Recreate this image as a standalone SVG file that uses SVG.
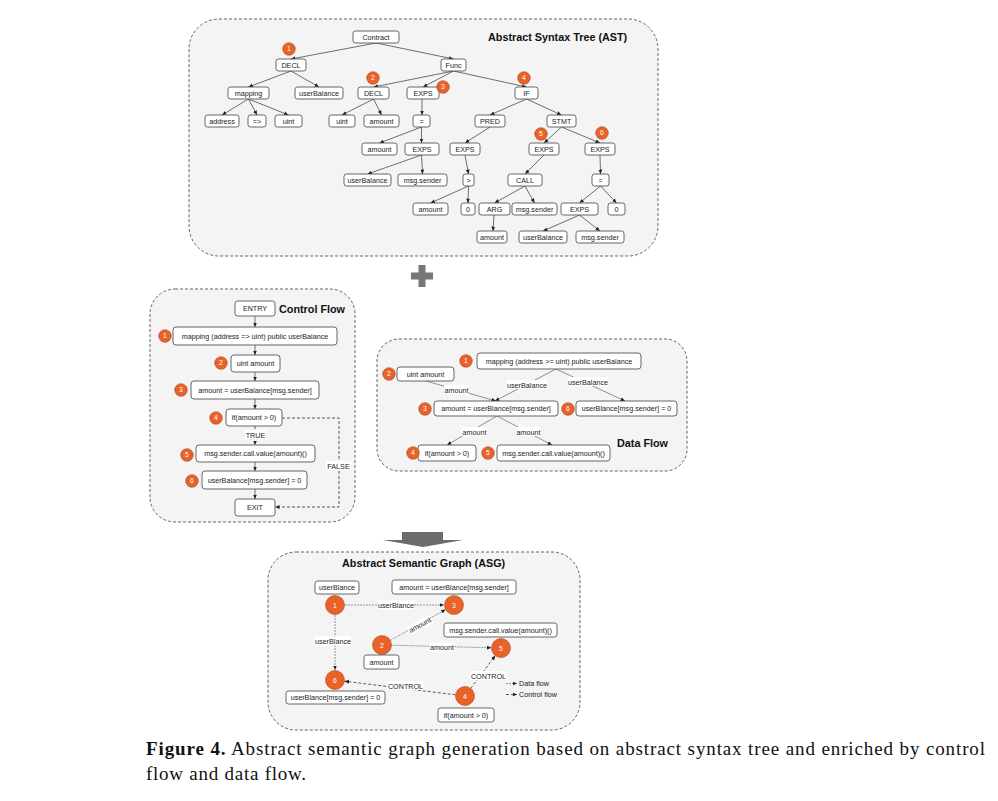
<svg xmlns="http://www.w3.org/2000/svg" width="998" height="801" viewBox="0 0 998 801">
<defs>
<style>
.panel{fill:#f4f4f4;stroke:#555;stroke-width:0.9;stroke-dasharray:3,2}
.b{fill:#fff;stroke:#555;stroke-width:0.9}
.t{font-family:"Liberation Sans",Arial,sans-serif;font-size:7.2px;fill:#222;text-anchor:middle}
.ttl{font-family:"Liberation Sans",Arial,sans-serif;font-size:10.8px;font-weight:bold;fill:#111}
.c{fill:#e8622a;stroke:#b4481c;stroke-width:0.6}
.cn{font-family:"Liberation Sans",Arial,sans-serif;font-size:6.8px;fill:#fff;text-anchor:middle}
.e{stroke:#333;stroke-width:0.7;fill:none}
.df{stroke:#666;stroke-width:0.7;fill:none}
.cf{stroke:#333;stroke-width:0.8;fill:none;stroke-dasharray:3,2}
.ad{stroke:#888;stroke-width:0.9;fill:none;stroke-dasharray:2,1}
.lb{fill:#fff}
.cap{font-family:"Liberation Serif","Times New Roman",serif;font-size:19px;fill:#111}
</style>
<marker id="ah" viewBox="0 0 6 6" refX="6" refY="3" markerWidth="4.5" markerHeight="4.5" orient="auto" markerUnits="userSpaceOnUse"><path d="M0,0.4 L6,3 L0,5.6 z" fill="#222"/></marker>
</defs>
<rect width="998" height="801" fill="#fff"/>

<!-- AST panel -->
<g id="ast-panel">
<rect class="panel" x="189" y="19" width="469" height="237" rx="30"/>
<text class="ttl" x="488" y="40.5">Abstract Syntax Tree (AST)</text>
</g>
<g id="ast-edges">
<line class="e" x1="376" y1="43" x2="291" y2="59" marker-end="url(#ah)"/>
<line class="e" x1="376" y1="43" x2="453.5" y2="59" marker-end="url(#ah)"/>
<line class="e" x1="291" y1="71" x2="248.5" y2="87" marker-end="url(#ah)"/>
<line class="e" x1="291" y1="71" x2="319" y2="87" marker-end="url(#ah)"/>
<line class="e" x1="248.5" y1="99" x2="222" y2="115" marker-end="url(#ah)"/>
<line class="e" x1="248.5" y1="99" x2="257" y2="115" marker-end="url(#ah)"/>
<line class="e" x1="248.5" y1="99" x2="288.5" y2="115" marker-end="url(#ah)"/>
<line class="e" x1="453.5" y1="71" x2="373.5" y2="87" marker-end="url(#ah)"/>
<line class="e" x1="453.5" y1="71" x2="423" y2="87" marker-end="url(#ah)"/>
<line class="e" x1="453.5" y1="71" x2="526.5" y2="87" marker-end="url(#ah)"/>
<line class="e" x1="373.5" y1="99" x2="342" y2="115" marker-end="url(#ah)"/>
<line class="e" x1="373.5" y1="99" x2="381.5" y2="115" marker-end="url(#ah)"/>
<line class="e" x1="422" y1="99" x2="422" y2="115" marker-end="url(#ah)"/>
<line class="e" x1="421.5" y1="127" x2="379.5" y2="143" marker-end="url(#ah)"/>
<line class="e" x1="421.5" y1="127" x2="421.5" y2="143" marker-end="url(#ah)"/>
<line class="e" x1="421.5" y1="155" x2="367.5" y2="174" marker-end="url(#ah)"/>
<line class="e" x1="421.5" y1="155" x2="422.5" y2="174" marker-end="url(#ah)"/>
<line class="e" x1="526.5" y1="99" x2="490" y2="115" marker-end="url(#ah)"/>
<line class="e" x1="526.5" y1="99" x2="561.5" y2="115" marker-end="url(#ah)"/>
<line class="e" x1="490" y1="127" x2="465" y2="143" marker-end="url(#ah)"/>
<line class="e" x1="465" y1="155" x2="468.5" y2="174" marker-end="url(#ah)"/>
<line class="e" x1="468.5" y1="186" x2="430.5" y2="203" marker-end="url(#ah)"/>
<line class="e" x1="468.5" y1="186" x2="468" y2="203" marker-end="url(#ah)"/>
<line class="e" x1="561.5" y1="127" x2="544" y2="143" marker-end="url(#ah)"/>
<line class="e" x1="561.5" y1="127" x2="600" y2="143" marker-end="url(#ah)"/>
<line class="e" x1="544" y1="155" x2="525" y2="174" marker-end="url(#ah)"/>
<line class="e" x1="525" y1="186" x2="494.5" y2="203" marker-end="url(#ah)"/>
<line class="e" x1="525" y1="186" x2="534.5" y2="203" marker-end="url(#ah)"/>
<line class="e" x1="494" y1="215" x2="493" y2="231" marker-end="url(#ah)"/>
<line class="e" x1="600" y1="155" x2="600.5" y2="174" marker-end="url(#ah)"/>
<line class="e" x1="600.5" y1="186" x2="579.5" y2="203" marker-end="url(#ah)"/>
<line class="e" x1="600.5" y1="186" x2="616.5" y2="203" marker-end="url(#ah)"/>
<line class="e" x1="579.5" y1="215" x2="543" y2="231" marker-end="url(#ah)"/>
<line class="e" x1="579.5" y1="215" x2="600" y2="231" marker-end="url(#ah)"/>
</g>
<g id="ast-contract"><rect class="b" x="353" y="31" width="46" height="12" rx="2.5"/><text class="t" x="376" y="39.8">Contract</text></g>
<g id="ast-decl1"><rect class="b" x="276" y="59" width="30" height="12" rx="2.5"/><text class="t" x="291" y="67.8">DECL</text></g>
<g id="ast-func"><rect class="b" x="441" y="59" width="25" height="12" rx="2.5"/><text class="t" x="453.5" y="67.8">Func</text></g>
<g id="ast-mapping"><rect class="b" x="228" y="87" width="41" height="12" rx="2.5"/><text class="t" x="248.5" y="95.8">mapping</text></g>
<g id="ast-userbal1"><rect class="b" x="295" y="87" width="48" height="12" rx="2.5"/><text class="t" x="319" y="95.8">userBalance</text></g>
<g id="ast-decl2"><rect class="b" x="358" y="87" width="31" height="12" rx="2.5"/><text class="t" x="373.5" y="95.8">DECL</text></g>
<g id="ast-exps1"><rect class="b" x="407" y="87" width="32" height="12" rx="2.5"/><text class="t" x="423" y="95.8">EXPS</text></g>
<g id="ast-if"><rect class="b" x="515" y="87" width="23" height="12" rx="2.5"/><text class="t" x="526.5" y="95.8">IF</text></g>
<g id="ast-address"><rect class="b" x="205" y="115" width="34" height="12" rx="2.5"/><text class="t" x="222" y="123.8">address</text></g>
<g id="ast-maparrow"><rect class="b" x="248" y="115" width="18" height="12" rx="2.5"/><text class="t" x="257" y="123.8">=&gt;</text></g>
<g id="ast-uint1"><rect class="b" x="275" y="115" width="27" height="12" rx="2.5"/><text class="t" x="288.5" y="123.8">uint</text></g>
<g id="ast-uint2"><rect class="b" x="329" y="115" width="26" height="12" rx="2.5"/><text class="t" x="342" y="123.8">uint</text></g>
<g id="ast-amount1"><rect class="b" x="364" y="115" width="35" height="12" rx="2.5"/><text class="t" x="381.5" y="123.8">amount</text></g>
<g id="ast-eq1"><rect class="b" x="413" y="115" width="17" height="12" rx="2.5"/><text class="t" x="421.5" y="123.8">=</text></g>
<g id="ast-pred"><rect class="b" x="475" y="115" width="30" height="12" rx="2.5"/><text class="t" x="490" y="123.8">PRED</text></g>
<g id="ast-stmt"><rect class="b" x="547" y="115" width="29" height="12" rx="2.5"/><text class="t" x="561.5" y="123.8">STMT</text></g>
<g id="ast-amount2"><rect class="b" x="362" y="143" width="35" height="12" rx="2.5"/><text class="t" x="379.5" y="151.8">amount</text></g>
<g id="ast-exps2"><rect class="b" x="405" y="143" width="34" height="12" rx="2.5"/><text class="t" x="422" y="151.8">EXPS</text></g>
<g id="ast-exps3"><rect class="b" x="450" y="143" width="30" height="12" rx="2.5"/><text class="t" x="465" y="151.8">EXPS</text></g>
<g id="ast-exps5"><rect class="b" x="529" y="143" width="30" height="12" rx="2.5"/><text class="t" x="544" y="151.8">EXPS</text></g>
<g id="ast-exps6"><rect class="b" x="585" y="143" width="30" height="12" rx="2.5"/><text class="t" x="600" y="151.8">EXPS</text></g>
<g id="ast-userbal2"><rect class="b" x="344" y="174" width="47" height="12" rx="2.5"/><text class="t" x="367.5" y="182.8">userBalance</text></g>
<g id="ast-sender1"><rect class="b" x="398" y="174" width="49" height="12" rx="2.5"/><text class="t" x="422.5" y="182.8">msg.sender</text></g>
<g id="ast-gt"><rect class="b" x="463" y="174" width="11" height="12" rx="2.5"/><text class="t" x="468.5" y="182.8">&gt;</text></g>
<g id="ast-call"><rect class="b" x="508" y="174" width="34" height="12" rx="2.5"/><text class="t" x="525" y="182.8">CALL</text></g>
<g id="ast-eq2"><rect class="b" x="592" y="174" width="17" height="12" rx="2.5"/><text class="t" x="600.5" y="182.8">=</text></g>
<g id="ast-amount3"><rect class="b" x="413" y="203" width="35" height="12" rx="2.5"/><text class="t" x="430.5" y="211.8">amount</text></g>
<g id="ast-zero1"><rect class="b" x="461" y="203" width="14" height="12" rx="2.5"/><text class="t" x="468" y="211.8">0</text></g>
<g id="ast-arg"><rect class="b" x="479" y="203" width="31" height="12" rx="2.5"/><text class="t" x="494.5" y="211.8">ARG</text></g>
<g id="ast-sender2"><rect class="b" x="512" y="203" width="45" height="12" rx="2.5"/><text class="t" x="534.5" y="211.8">msg.sender</text></g>
<g id="ast-exps7"><rect class="b" x="561" y="203" width="37" height="12" rx="2.5"/><text class="t" x="579.5" y="211.8">EXPS</text></g>
<g id="ast-zero2"><rect class="b" x="608" y="203" width="17" height="12" rx="2.5"/><text class="t" x="616.5" y="211.8">0</text></g>
<g id="ast-amount4"><rect class="b" x="477" y="231" width="30" height="12" rx="2.5"/><text class="t" x="492" y="239.8">amount</text></g>
<g id="ast-userbal3"><rect class="b" x="519" y="231" width="48" height="12" rx="2.5"/><text class="t" x="543" y="239.8">userBalance</text></g>
<g id="ast-sender3"><rect class="b" x="576" y="231" width="48" height="12" rx="2.5"/><text class="t" x="600" y="239.8">msg.sender</text></g>
<g id="ast-markers">
<circle class="c" cx="289" cy="49" r="6.3"/><text class="cn" x="289" y="51.4">1</text>
<circle class="c" cx="373" cy="78" r="6.3"/><text class="cn" x="373" y="80.4">2</text>
<circle class="c" cx="443" cy="87" r="6.3"/><text class="cn" x="443" y="89.4">3</text>
<circle class="c" cx="524" cy="78" r="6.3"/><text class="cn" x="524" y="80.4">4</text>
<circle class="c" cx="541" cy="134" r="6.3"/><text class="cn" x="541" y="136.4">5</text>
<circle class="c" cx="602" cy="133" r="6.3"/><text class="cn" x="602" y="135.4">6</text>
</g>

<!-- plus -->
<g id="plus" fill="#777">
<rect x="418.5" y="265" width="7" height="22"/>
<rect x="411" y="272.5" width="22" height="7"/>
</g>

<!-- Control Flow -->
<g id="cf-panel">
<rect class="panel" x="150" y="289" width="205" height="233" rx="25"/>
<text class="ttl" x="279" y="313">Control Flow</text>
</g>
<g id="cf-edges">
<line class="e" x1="255" y1="316" x2="255" y2="327" marker-end="url(#ah)"/>
<line class="e" x1="255" y1="345" x2="255" y2="355" marker-end="url(#ah)"/>
<line class="e" x1="255" y1="372" x2="255" y2="381" marker-end="url(#ah)"/>
<line class="e" x1="255" y1="399" x2="255" y2="409" marker-end="url(#ah)"/>
<line class="cf" x1="255" y1="426" x2="255" y2="445" marker-end="url(#ah)"/>
<line class="e" x1="255" y1="462" x2="255" y2="471" marker-end="url(#ah)"/>
<line class="e" x1="255" y1="489" x2="255" y2="499" marker-end="url(#ah)"/>
<polyline class="cf" points="282,418 339,418 339,507 275,507" marker-end="url(#ah)"/>
<rect class="lb" x="245" y="430" width="21" height="9"/>
<text class="t" x="255.5" y="437.5">TRUE</text>
<rect class="lb" x="326" y="461" width="25" height="9"/>
<text class="t" x="338.5" y="468.5">FALSE</text>
</g>
<g id="cf-entry"><rect class="b" x="235" y="301" width="40" height="15" rx="2.5"/><text class="t" x="255" y="311">ENTRY</text></g>
<g id="cf-1"><rect class="b" x="173" y="327" width="164" height="18" rx="3"/><text class="t" x="255" y="338.5">mapping (address =&gt; uint) public userBalance</text><circle class="c" cx="165" cy="336" r="6.3"/><text class="cn" x="165" y="338.4">1</text></g>
<g id="cf-2"><rect class="b" x="231" y="355" width="49" height="17" rx="3"/><text class="t" x="255.5" y="366">uint amount</text><circle class="c" cx="221" cy="363" r="6.3"/><text class="cn" x="221" y="365.4">2</text></g>
<g id="cf-3"><rect class="b" x="191" y="381" width="128" height="18" rx="3"/><text class="t" x="255" y="392.5">amount = userBalance[msg.sender]</text><circle class="c" cx="181" cy="390" r="6.3"/><text class="cn" x="181" y="392.4">3</text></g>
<g id="cf-4"><rect class="b" x="226" y="409" width="56" height="17" rx="3"/><text class="t" x="254" y="420">if(amount &gt; 0)</text><circle class="c" cx="216" cy="418" r="6.3"/><text class="cn" x="216" y="420.4">4</text></g>
<g id="cf-5"><rect class="b" x="196" y="445" width="119" height="17" rx="3"/><text class="t" x="255.5" y="456">msg.sender.call.value(amount)()</text><circle class="c" cx="187" cy="455" r="6.3"/><text class="cn" x="187" y="457.4">5</text></g>
<g id="cf-6"><rect class="b" x="202" y="471" width="105" height="18" rx="3"/><text class="t" x="254.5" y="482.5">userBalance[msg.sender] = 0</text><circle class="c" cx="192" cy="481" r="6.3"/><text class="cn" x="192" y="483.4">6</text></g>
<g id="cf-exit"><rect class="b" x="235" y="499" width="40" height="17" rx="2.5"/><text class="t" x="255" y="510">EXIT</text></g>

<!-- Data Flow -->
<g id="df-panel">
<rect class="panel" x="377" y="339" width="310" height="132" rx="22"/>
<text class="ttl" x="617" y="447">Data Flow</text>
</g>
<g id="df-edges">
<line class="df" x1="556" y1="369" x2="495" y2="401" marker-end="url(#ah)"/>
<line class="df" x1="556" y1="369" x2="625" y2="401" marker-end="url(#ah)"/>
<line class="df" x1="426" y1="381" x2="496" y2="401" marker-end="url(#ah)"/>
<line class="df" x1="497" y1="416" x2="447" y2="445" marker-end="url(#ah)"/>
<line class="df" x1="497" y1="416" x2="552" y2="445" marker-end="url(#ah)"/>
<rect class="lb" x="507" y="380" width="40" height="9"/>
<text class="t" x="527" y="387.5">userBalance</text>
<rect class="lb" x="568" y="377" width="40" height="9"/>
<text class="t" x="588" y="384.5">userBalance</text>
<rect class="lb" x="444" y="385" width="25" height="9"/>
<text class="t" x="456.5" y="392.5">amount</text>
<rect class="lb" x="462" y="427" width="25" height="9"/>
<text class="t" x="474.5" y="434.5">amount</text>
<rect class="lb" x="516" y="427" width="25" height="9"/>
<text class="t" x="528.5" y="434.5">amount</text>
</g>
<g id="df-1"><rect class="b" x="477" y="353" width="164" height="16" rx="3"/><text class="t" x="559" y="363.5">mapping (address &gt;= uint) public userBalance</text><circle class="c" cx="466" cy="361" r="6.3"/><text class="cn" x="466" y="363.4">1</text></g>
<g id="df-2"><rect class="b" x="397" y="367" width="57" height="14" rx="3"/><text class="t" x="425.5" y="376.5">uint amount</text><circle class="c" cx="389" cy="374" r="6.3"/><text class="cn" x="389" y="376.4">2</text></g>
<g id="df-3"><rect class="b" x="434" y="401" width="124" height="15" rx="3"/><text class="t" x="496" y="411">amount = userBlance[msg.sender]</text><circle class="c" cx="425" cy="409" r="6.3"/><text class="cn" x="425" y="411.4">3</text></g>
<g id="df-6"><rect class="b" x="576" y="401" width="101" height="15" rx="3"/><text class="t" x="626.5" y="411">userBlance[msg.sender] = 0</text><circle class="c" cx="568" cy="409" r="6.3"/><text class="cn" x="568" y="411.4">6</text></g>
<g id="df-4"><rect class="b" x="418" y="445" width="58" height="16" rx="3"/><text class="t" x="447" y="455.5">if(amount &gt; 0)</text><circle class="c" cx="413" cy="453" r="6.3"/><text class="cn" x="413" y="455.4">4</text></g>
<g id="df-5"><rect class="b" x="497" y="445" width="113" height="16" rx="3"/><text class="t" x="553.5" y="455.5">msg.sender.call.value(amount)()</text><circle class="c" cx="488" cy="453" r="6.3"/><text class="cn" x="488" y="455.4">5</text></g>

<!-- down arrow -->
<g id="down-arrow">
<polygon points="402,532 443,532 443,540 463,540 423,547 383,540 402,540" fill="#6b6b6b"/>
</g>

<!-- ASG -->
<g id="asg-panel">
<rect class="panel" x="268" y="552" width="312" height="178" rx="28"/>
<text class="ttl" x="342" y="567">Abstract Semantic Graph (ASG)</text>
</g>
<g id="asg-edges">
<line class="ad" x1="345" y1="605" x2="444" y2="605" marker-end="url(#ah)"/>
<line class="ad" x1="335" y1="615" x2="335" y2="670" marker-end="url(#ah)"/>
<line class="ad" x1="390.3" y1="640.4" x2="445.7" y2="609.6" marker-end="url(#ah)"/>
<line class="ad" x1="391.5" y1="645.2" x2="491.5" y2="647.8" marker-end="url(#ah)"/>
<line class="cf" x1="470.7" y1="688.4" x2="495.3" y2="655.6" marker-end="url(#ah)"/>
<line class="cf" x1="455.6" y1="694.8" x2="344.4" y2="681.2" marker-end="url(#ah)"/>
<rect class="lb" x="378" y="600.5" width="36" height="9"/>
<text class="t" x="396" y="608">userBlance</text>
<rect class="lb" x="315" y="636.5" width="36" height="9"/>
<text class="t" x="333" y="644">userBlance</text>
<g transform="translate(420,625) rotate(-29)"><rect class="lb" x="-12.5" y="-4.5" width="25" height="9"/><text class="t" x="0" y="2.5">amount</text></g>
<rect class="lb" x="429.5" y="642.5" width="25" height="9"/>
<text class="t" x="442" y="650">amount</text>
<rect class="lb" x="470.5" y="671" width="36" height="9"/>
<text class="t" x="488.5" y="678.5">CONTROL</text>
<rect class="lb" x="387.5" y="681" width="36" height="9"/>
<text class="t" x="405.5" y="688.5">CONTROL</text>
</g>
<g id="asg-legend">
<line class="ad" x1="506" y1="683.5" x2="517" y2="683.5" marker-end="url(#ah)"/>
<text class="t" x="519" y="686.3" style="text-anchor:start">Data flow</text>
<line class="cf" x1="506" y1="694.5" x2="517" y2="694.5" marker-end="url(#ah)"/>
<text class="t" x="519" y="697.3" style="text-anchor:start">Control flow</text>
</g>
<g id="asg-1"><rect class="b" x="315" y="581" width="44" height="13" rx="2.5"/><text class="t" x="337" y="590.3">userBlance</text><circle class="c" cx="335" cy="605" r="9.5"/><text class="cn" x="335" y="607.5">1</text></g>
<g id="asg-3"><rect class="b" x="392" y="580" width="124" height="14" rx="2.5"/><text class="t" x="454" y="589.8">amount = userBlance[msg.sender]</text><circle class="c" cx="454" cy="605" r="9.5"/><text class="cn" x="454" y="607.5">3</text></g>
<g id="asg-2"><circle class="c" cx="382" cy="645" r="9.5"/><text class="cn" x="382" y="647.5">2</text><rect class="b" x="364" y="655" width="35" height="14" rx="2.5"/><text class="t" x="381.5" y="664.8">amount</text></g>
<g id="asg-5"><rect class="b" x="444" y="623" width="113" height="14" rx="2.5"/><text class="t" x="500.5" y="632.8">msg.sender.call.value(amount)()</text><circle class="c" cx="501" cy="648" r="9.5"/><text class="cn" x="501" y="650.5">5</text></g>
<g id="asg-6"><circle class="c" cx="335" cy="680" r="9.5"/><text class="cn" x="335" y="682.5">6</text><rect class="b" x="286" y="691" width="99" height="13" rx="2.5"/><text class="t" x="335.5" y="700.3">userBlance[msg.sender] = 0</text></g>
<g id="asg-4"><circle class="c" cx="465" cy="696" r="9.5"/><text class="cn" x="465" y="698.5">4</text><rect class="b" x="438" y="708" width="56" height="14" rx="2.5"/><text class="t" x="466" y="717.8">if(amount &gt; 0)</text></g>

<!-- caption -->
<g id="caption">
<text class="cap" x="146" y="755" textLength="839" lengthAdjust="spacing"><tspan font-weight="bold">Figure 4.</tspan> Abstract semantic graph generation based on abstract syntax tree and enriched by control</text>
<text class="cap" x="146" y="780" textLength="160" lengthAdjust="spacing">flow and data flow.</text>
</g>
</svg>
